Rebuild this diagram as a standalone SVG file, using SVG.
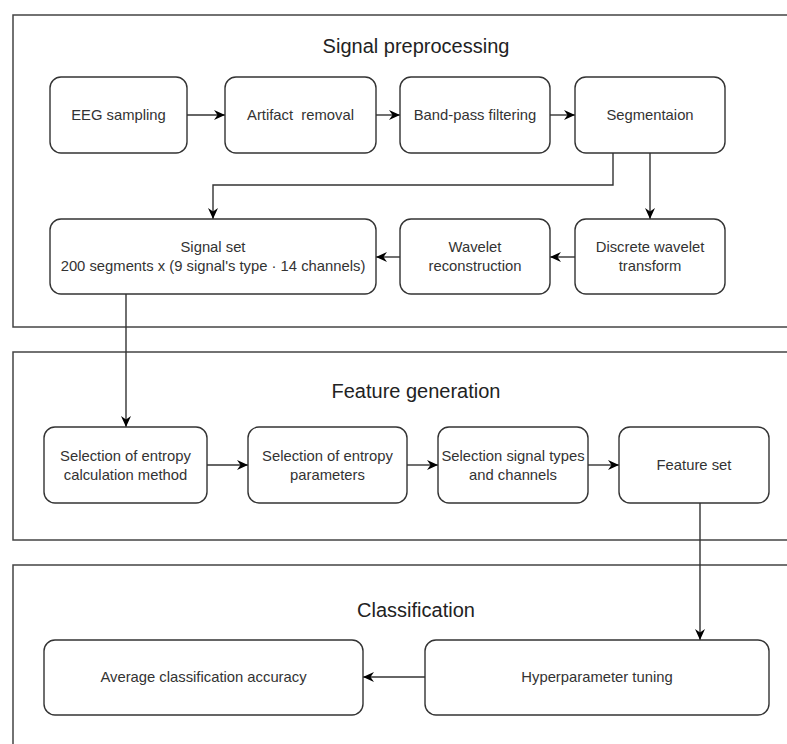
<svg xmlns="http://www.w3.org/2000/svg" width="787" height="744" viewBox="0 0 787 744">
<defs>
<style>
.cont{fill:#fff;stroke:#444;stroke-width:1.5}
.node{fill:#fff;stroke:#333;stroke-width:1.4}
.title{font-family:"Liberation Sans",Arial,sans-serif;font-size:20px;fill:#222;text-anchor:middle}
.lbl{font-family:"Liberation Sans",Arial,sans-serif;font-size:14.8px;fill:#333;text-anchor:middle}
.edge{fill:none;stroke:#333;stroke-width:1.4}
</style>
<marker id="arr" markerWidth="12" markerHeight="12" refX="11" refY="5.5" orient="auto" markerUnits="userSpaceOnUse">
<path d="M0,0.5 L11,5.5 L0,10.5 L3.5,5.5 z" fill="#000"/>
</marker>
</defs>
<rect width="787" height="744" fill="#fff"/>
<g id="containers">
<g id="signal-preprocessing">
<rect class="cont" x="13" y="15" width="800" height="312"/>
<text class="title" x="416" y="53">Signal preprocessing</text>
</g>
<g id="feature-generation">
<rect class="cont" x="13" y="352" width="800" height="188"/>
<text class="title" x="416" y="398">Feature generation</text>
</g>
<g id="classification">
<rect class="cont" x="13" y="565" width="800" height="200"/>
<text class="title" x="416" y="617">Classification</text>
</g>
</g>
<g id="edges">
<path class="edge" d="M187,115 H225" marker-end="url(#arr)"/>
<path class="edge" d="M376,115 H400" marker-end="url(#arr)"/>
<path class="edge" d="M550,115 H575" marker-end="url(#arr)"/>
<path class="edge" d="M613,153 V185 H213 V219" marker-end="url(#arr)"/>
<path class="edge" d="M650,153 V219" marker-end="url(#arr)"/>
<path class="edge" d="M575,257 H550" marker-end="url(#arr)"/>
<path class="edge" d="M400,257 H376" marker-end="url(#arr)"/>
<path class="edge" d="M126,294 V427" marker-end="url(#arr)"/>
<path class="edge" d="M207,465 H248" marker-end="url(#arr)"/>
<path class="edge" d="M407,465 H438" marker-end="url(#arr)"/>
<path class="edge" d="M588,465 H619" marker-end="url(#arr)"/>
<path class="edge" d="M700,503 V640" marker-end="url(#arr)"/>
<path class="edge" d="M425,677 H363" marker-end="url(#arr)"/>
</g>
<g id="eeg-sampling">
<rect class="node" x="50" y="77" width="137" height="76" rx="11"/>
<text class="lbl" x="118.5" y="120">EEG sampling</text>
</g>
<g id="artifact-removal">
<rect class="node" x="225" y="77" width="151" height="76" rx="11"/>
<text class="lbl" x="300.5" y="120" xml:space="preserve">Artifact  removal</text>
</g>
<g id="band-pass-filtering">
<rect class="node" x="400" y="77" width="150" height="76" rx="11"/>
<text class="lbl" x="475" y="120">Band-pass filtering</text>
</g>
<g id="segmentation">
<rect class="node" x="575" y="77" width="150" height="76" rx="11"/>
<text class="lbl" x="650" y="120">Segmentaion</text>
</g>
<g id="signal-set">
<rect class="node" x="50" y="219" width="326" height="75" rx="11"/>
<text class="lbl" x="213" y="252">Signal set</text>
<text class="lbl" x="213" y="271">200 segments x (9 signal's type · 14 channels)</text>
</g>
<g id="wavelet-reconstruction">
<rect class="node" x="400" y="219" width="150" height="75" rx="11"/>
<text class="lbl" x="475" y="252">Wavelet</text>
<text class="lbl" x="475" y="271">reconstruction</text>
</g>
<g id="discrete-wavelet-transform">
<rect class="node" x="575" y="219" width="150" height="75" rx="11"/>
<text class="lbl" x="650" y="252">Discrete wavelet</text>
<text class="lbl" x="650" y="271">transform</text>
</g>
<g id="entropy-method">
<rect class="node" x="44" y="427" width="163" height="76" rx="11"/>
<text class="lbl" x="125.5" y="461">Selection of entropy</text>
<text class="lbl" x="125.5" y="480">calculation method</text>
</g>
<g id="entropy-parameters">
<rect class="node" x="248" y="427" width="159" height="76" rx="11"/>
<text class="lbl" x="327.5" y="461">Selection of entropy</text>
<text class="lbl" x="327.5" y="480">parameters</text>
</g>
<g id="signal-types">
<rect class="node" x="438" y="427" width="150" height="76" rx="11"/>
<text class="lbl" x="513" y="461">Selection signal types</text>
<text class="lbl" x="513" y="480">and channels</text>
</g>
<g id="feature-set">
<rect class="node" x="619" y="427" width="150" height="76" rx="11"/>
<text class="lbl" x="694" y="470">Feature set</text>
</g>
<g id="average-accuracy">
<rect class="node" x="44" y="640" width="319" height="75" rx="11"/>
<text class="lbl" x="203.5" y="682">Average classification accuracy</text>
</g>
<g id="hyperparameter-tuning">
<rect class="node" x="425" y="640" width="344" height="75" rx="11"/>
<text class="lbl" x="597" y="682">Hyperparameter tuning</text>
</g>
</svg>
